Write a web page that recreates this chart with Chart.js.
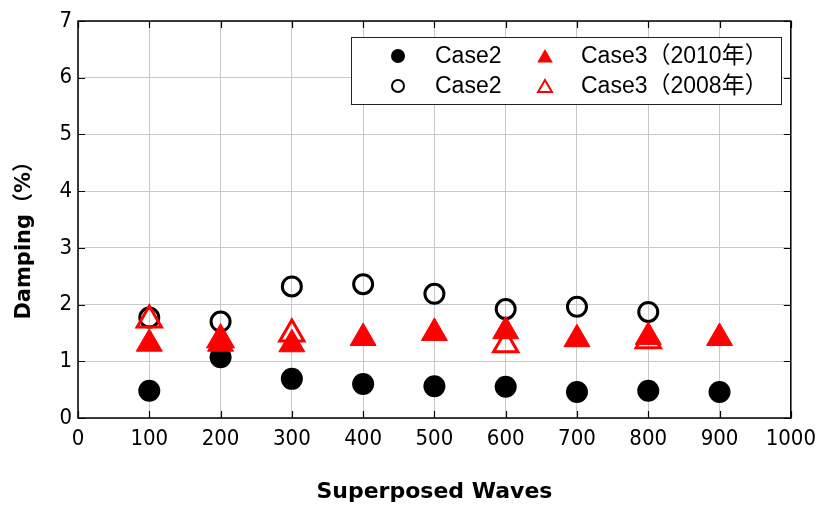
<!DOCTYPE html>
<html>
<head>
<meta charset="utf-8">
<script src="https://cdn.jsdelivr.net/npm/chart.js@4/dist/chart.umd.min.js"></script>
<style>
  html, body { margin: 0; padding: 0; background: #fff; }
  #wrap { width: 824px; height: 508px; }
</style>
</head>
<body>
<div id="wrap"><canvas id="dampingChart"></canvas></div>
<script>
// values
var waves = [100, 200, 300, 400, 500, 600, 700, 800, 900];
var case2Solid = [0.48, 1.07, 0.69, 0.60, 0.56, 0.55, 0.46, 0.48, 0.46];
var case2OpenWaves = [100, 200, 300, 400, 500, 600, 700, 800];
var case2Open = [1.77, 1.70, 2.32, 2.36, 2.19, 1.92, 1.96, 1.87];
var case3y2010 = [1.31, 1.31, 1.30, 1.41, 1.50, 1.53, 1.39, 1.43, 1.41];
var case3y2008Waves = [100, 200, 300, 600, 800];
var case3y2008 = [1.73, 1.38, 1.48, 1.29, 1.36];
var xTicks = [0, 100, 200, 300, 400, 500, 600, 700, 800, 900, 1000];
var yTicks = [0, 1, 2, 3, 4, 5, 6, 7];

var narrow = "'Liberation Sans Narrow', 'DejaVu Sans Condensed', sans-serif";
var titleFont = "'DejaVu Sans', 'Noto Sans CJK JP', sans-serif";
var legendFont = "'Liberation Sans', Arial, 'Noto Sans CJK JP', sans-serif";

function toPoints(xs, ys) {
  return xs.map(function(x, i) { return { x: x, y: ys[i] }; });
}

var datasets = [
  {
    label: 'Case2',
    data: toPoints(waves, case2Solid),
    pointStyle: 'circle', pointRadius: 11,
    backgroundColor: '#000', borderColor: '#000', borderWidth: 0,
    legendRadius: 7, order: 4
  },
  {
    label: 'Case3（2010年）',
    data: toPoints(waves, case3y2010),
    pointStyle: 'triangle', pointRadius: 15,
    backgroundColor: '#ff0000', borderColor: '#ff0000', borderWidth: 1,
    legendRadius: 9, order: 1
  },
  {
    label: 'Case2',
    data: toPoints(case2OpenWaves, case2Open),
    pointStyle: 'circle', pointRadius: 9.5,
    backgroundColor: 'rgba(0,0,0,0)', borderColor: '#000', borderWidth: 3,
    legendRadius: 6, legendBorder: 2, order: 3
  },
  {
    label: 'Case3（2008年）',
    data: toPoints(case3y2008Waves, case3y2008),
    pointStyle: 'triangle', pointRadius: 14,
    backgroundColor: 'rgba(0,0,0,0)', borderColor: '#ff0000', borderWidth: 3,
    legendRadius: 8, legendBorder: 2, order: 2
  }
];

// frame with inward ticks on all four sides
var framePlugin = {
  id: 'frame',
  afterDatasetsDraw: function(chart) {
    var ctx = chart.ctx, a = chart.chartArea;
    var xs = chart.scales.x, ys = chart.scales.y;
    ctx.save();
    ctx.strokeStyle = '#000';
    ctx.lineWidth = 1.5;
    ctx.strokeRect(a.left, a.top, a.right - a.left, a.bottom - a.top);
    ctx.lineWidth = 1.2;
    ctx.beginPath();
    xTicks.forEach(function(v) {
      var px = Math.round(xs.getPixelForValue(v)) + 0.5;
      ctx.moveTo(px, a.bottom); ctx.lineTo(px, a.bottom - 7);
      ctx.moveTo(px, a.top); ctx.lineTo(px, a.top + 7);
    });
    yTicks.forEach(function(v) {
      var py = Math.round(ys.getPixelForValue(v)) + 0.5;
      ctx.moveTo(a.left, py); ctx.lineTo(a.left + 7, py);
      ctx.moveTo(a.right, py); ctx.lineTo(a.right - 7, py);
    });
    ctx.stroke();
    ctx.restore();
  }
};

// legend box inside the plot, 2 x 2
var legendPlugin = {
  id: 'boxLegend',
  afterDraw: function(chart) {
    var ctx = chart.ctx;
    var box = { x: 351, y: 37, w: 430, h: 67 };
    var cols = [{ mx: 398, tx: 435 }, { mx: 545, tx: 581 }];
    var rows = [56, 86];
    ctx.save();
    ctx.fillStyle = '#fff';
    ctx.fillRect(box.x, box.y, box.w, box.h);
    ctx.strokeStyle = '#222';
    ctx.lineWidth = 1;
    ctx.strokeRect(box.x + 0.5, box.y + 0.5, box.w, box.h);
    ctx.font = '23px ' + legendFont;
    ctx.textBaseline = 'middle';
    chart.data.datasets.forEach(function(ds, i) {
      var c = cols[i % 2], r = rows[Math.floor(i / 2)];
      ctx.fillStyle = ds.backgroundColor;
      ctx.strokeStyle = ds.borderColor;
      ctx.lineWidth = ds.legendBorder || 0;
      var py = ds.pointStyle === 'triangle' ? r + 2 : r;
      Chart.helpers.drawPoint(ctx, {
        pointStyle: ds.pointStyle, rotation: 0,
        radius: ds.legendRadius, borderWidth: ds.legendBorder || 0
      }, c.mx, py);
      ctx.fillStyle = '#000';
      ctx.fillText(ds.label, c.tx, r + 1);
    });
    ctx.restore();
  }
};

function plainLabel(v) { return String(v); }

var ctx = document.getElementById('dampingChart').getContext('2d');
var chart = new Chart(ctx, {
  type: 'scatter',
  data: { datasets: datasets },
  options: {
    responsive: true,
    maintainAspectRatio: false,
    animation: false,
    layout: { padding: { top: 21, right: 31, left: 0, bottom: 0 } },
    plugins: {
      legend: { display: false },
      tooltip: { enabled: false }
    },
    scales: {
      x: {
        type: 'linear', min: 0, max: 1000,
        afterFit: function(scale) { scale.height = 90; },
        afterBuildTicks: function(scale) { scale.ticks = xTicks.map(function(v) { return { value: v }; }); },
        grid: { color: '#c8c8c8', lineWidth: 1, drawTicks: false },
        border: { display: false },
        ticks: { color: '#000', padding: 8, font: { family: narrow, size: 22 }, maxRotation: 0, callback: plainLabel },
        title: {
          display: true, text: 'Superposed Waves', color: '#000',
          font: { family: titleFont, size: 22, weight: 'bold' },
          padding: { top: 0, bottom: 3 }
        }
      },
      y: {
        type: 'linear', min: 0, max: 7,
        afterFit: function(scale) { scale.width = 78; },
        afterBuildTicks: function(scale) { scale.ticks = yTicks.map(function(v) { return { value: v }; }); },
        grid: { color: '#c8c8c8', lineWidth: 1, drawTicks: false },
        border: { display: false },
        ticks: { color: '#000', padding: 6, font: { family: narrow, size: 22 }, callback: plainLabel },
        title: {
          display: true, text: 'Damping（%）　　', color: '#000',
          font: { family: titleFont, size: 21, weight: 'bold' },
          padding: { top: 12, bottom: 0 }
        }
      }
    }
  },
  plugins: [framePlugin, legendPlugin]
});
</script>
</body>
</html>
